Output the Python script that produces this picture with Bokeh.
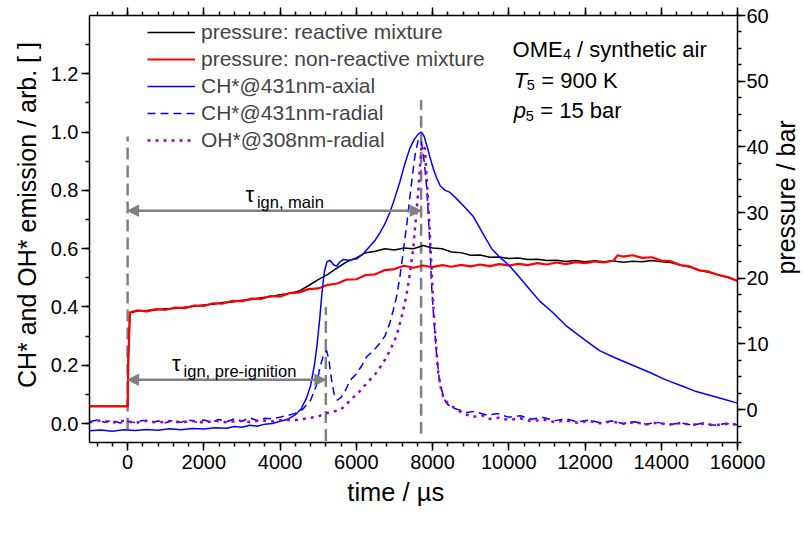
import math
from bokeh.plotting import figure
from bokeh.layouts import row
from bokeh.models import (Range1d, LinearAxis, Legend, LegendItem, Arrow, NormalHead,
                          Label, SingleIntervalTicker, NumeralTickFormatter)
from bokeh.embed import file_html
from bokeh.resources import INLINE

FONT = "Liberation Sans"

# ---------------- data ----------------
# pressure traces (bar), right axis
t_press = [-1000, 0, 20, 60,
           250, 500, 750, 1000, 1250, 1500, 1750, 2000, 2250, 2500,
           2750, 3000, 3250, 3500, 3750, 4000, 4250, 4500, 4750, 5000,
           5250, 5500, 5750, 6000, 6250, 6500, 6750, 7000, 7250, 7500,
           7750, 8000, 8250, 8500, 8750, 9000, 9250, 9500, 9750, 10000,
           10250, 10500, 10750, 11000, 11250, 11500, 11750, 12000, 12250, 12500,
           12750, 12850, 13000, 13250, 13500, 13750, 14000, 14250, 14500, 14750,
           15000, 15250, 15500, 15750, 16000]
p_reactive = [0.5, 0.5, 8.0, 14.7,
              15.0, 15.1, 15.2, 15.35, 15.4, 15.6, 15.75, 15.95, 16.05, 16.3,
              16.4, 16.65, 16.75, 17.05, 17.2, 17.5, 17.7, 18.05, 18.9, 19.8,
              20.6, 21.6, 22.5, 23.1, 23.9, 24.1, 24.5, 24.3, 24.6, 24.5,
              25.0, 24.6, 24.5, 24.0, 23.9, 23.5, 23.55, 23.2, 23.25, 23.0,
              23.1, 22.85, 22.9, 22.7, 22.75, 22.55, 22.7, 22.5, 22.65, 22.5,
              22.65, 22.55, 22.45, 22.6, 22.5, 22.7, 22.5, 22.4, 22.0, 21.7,
              21.2, 20.9, 20.5, 20.1, 19.6]
p_nonreactive = [0.5, 0.5, 8.0, 14.8,
                 15.1, 14.95, 15.3, 15.2, 15.55, 15.45, 15.85, 15.8, 16.2, 16.15,
                 16.55, 16.5, 16.9, 16.85, 17.3, 17.2, 17.75, 17.85, 18.35, 18.45,
                 19.0, 19.2, 19.8, 19.85, 20.5, 20.6, 21.25, 21.4, 21.9, 21.6,
                 21.95, 21.7, 22.0, 21.75, 22.05, 21.8, 22.1, 21.85, 22.15, 21.95,
                 22.2, 22.0, 22.3, 22.1, 22.4, 22.15, 22.45, 22.3, 22.55, 22.4,
                 22.7, 23.5, 23.3, 23.5, 23.1, 23.2, 22.7, 22.6, 22.0, 21.8,
                 21.2, 21.0, 20.5, 20.2, 19.6]

# CH* axial emission (arb.), left axis
t_axial = [-1000, -700, -400, -100, 200, 500, 800, 1100, 1400, 1700,
           2000, 2300, 2600, 2800, 3000, 3200, 3400, 3600, 3800, 4000,
           4200, 4400, 4550, 4700, 4800, 4900, 4970, 5040, 5100, 5160,
           5230, 5310, 5400, 5480, 5570, 5660, 5800, 6010, 6200, 6360,
           6500, 6620, 6750, 6880, 7000, 7140, 7270, 7400, 7520, 7630,
           7710, 7780, 7850, 7930, 8020, 8100, 8200, 8330, 8460, 8640,
           8810, 9070, 9330, 9550, 9770, 10030, 10290, 10550, 10810, 11160,
           11510, 11810, 12120, 12380, 12800, 13250, 13700, 14120, 14560, 14870,
           15200, 15600, 16000]
ch_axial = [-0.025, -0.022, -0.026, -0.021, -0.024, -0.020, -0.023, -0.018, -0.021, -0.017,
            -0.019, -0.014, -0.016, -0.010, -0.013, -0.006, -0.009, -0.002, 0.000, 0.008,
            0.015, 0.030, 0.050, 0.090, 0.130, 0.200, 0.270, 0.360, 0.450, 0.520,
            0.555, 0.560, 0.545, 0.540, 0.555, 0.563, 0.560, 0.565, 0.585, 0.609,
            0.630, 0.655, 0.685, 0.724, 0.770, 0.828, 0.890, 0.943, 0.975, 0.994,
            1.000, 0.985, 0.954, 0.915, 0.874, 0.845, 0.816, 0.800, 0.793, 0.770,
            0.747, 0.710, 0.650, 0.600, 0.570, 0.540, 0.500, 0.460, 0.420, 0.380,
            0.335, 0.305, 0.275, 0.250, 0.225, 0.200, 0.175, 0.150, 0.128, 0.112,
            0.100, 0.085, 0.070]

# CH* radial emission
t_radial = [-1000, -800, -600, -400, -200, 0, 200, 400, 600, 800,
            1000, 1200, 1400, 1600, 1800, 2000, 2200, 2400, 2600, 2800,
            3000, 3200, 3400, 3600, 3800, 4000, 4200, 4400, 4600, 4800,
            4950, 5050, 5150, 5220, 5280, 5350, 5420, 5500, 5600, 5700,
            5840, 6000, 6150, 6270, 6450, 6620, 6750, 6880, 6970, 7060,
            7150, 7240, 7330, 7410, 7480, 7540, 7630, 7710, 7780, 7850,
            7920, 7980, 8050, 8110, 8170, 8240, 8300, 8370, 8500, 8720,
            8900, 9100, 9420, 9700, 10000, 10300, 10600, 10900, 11200, 11500,
            11800, 12100, 12400, 12700, 13000, 13300, 13600, 13900, 14200, 14500,
            14800, 15100, 15400, 15700, 16000]
ch_radial = [0.006, 0.012, 0.004, 0.011, 0.002, 0.008, 0.003, 0.011, 0.002, 0.009,
             0.003, 0.012, 0.004, 0.013, 0.005, 0.012, 0.004, 0.014, 0.006, 0.016,
             0.008, 0.020, 0.010, 0.018, 0.016, 0.022, 0.028, 0.035, 0.050, 0.080,
             0.130, 0.195, 0.240, 0.250, 0.220, 0.150, 0.100, 0.080, 0.090, 0.110,
             0.149, 0.170, 0.200, 0.229, 0.250, 0.276, 0.300, 0.345, 0.390, 0.437,
             0.510, 0.598, 0.690, 0.782, 0.860, 0.920, 0.977, 0.966, 0.900, 0.805,
             0.640, 0.460, 0.330, 0.230, 0.160, 0.115, 0.085, 0.069, 0.055, 0.046,
             0.038, 0.042, 0.029, 0.034, 0.022, 0.027, 0.015, 0.021, 0.010, 0.016,
             0.006, 0.012, 0.003, 0.009, 0.000, 0.006, -0.002, 0.004, -0.004, 0.002,
             -0.005, 0.001, -0.006, 0.000, -0.004]

# OH* radial emission
t_oh = [-1000, -700, -400, -100, 200, 500, 800, 1100, 1400, 1700,
        2000, 2300, 2600, 2900, 3200, 3500, 3800, 4100, 4400, 4700,
        5000, 5180, 5350, 5570, 5700, 5840, 6050, 6270, 6500, 6700,
        6880, 7050, 7180, 7310, 7400, 7490, 7560, 7630, 7710, 7800,
        7890, 7960, 8020, 8090, 8150, 8220, 8280, 8400, 8540, 8800,
        9050, 9300, 9500, 9750, 10000, 10300, 10600, 10900, 11200, 11500,
        11800, 12100, 12400, 12700, 13000, 13300, 13600, 13900, 14200, 14500,
        14800, 15100, 15400, 15700, 16000]
oh_radial = [0.004, 0.011, 0.003, 0.010, 0.002, 0.010, 0.003, 0.009, 0.004, 0.009,
             0.003, 0.010, 0.004, 0.010, 0.005, 0.011, 0.007, 0.013, 0.012, 0.018,
             0.024, 0.034, 0.040, 0.046, 0.060, 0.080, 0.105, 0.138, 0.170, 0.207,
             0.250, 0.299, 0.360, 0.437, 0.510, 0.598, 0.700, 0.805, 0.954, 0.943,
             0.747, 0.570, 0.402, 0.270, 0.172, 0.120, 0.092, 0.070, 0.057, 0.035,
             0.023, 0.028, 0.016, 0.020, 0.012, 0.018, 0.008, 0.014, 0.005, 0.011,
             0.003, 0.009, 0.001, 0.007, -0.001, 0.005, -0.003, 0.003, -0.004, 0.002,
             -0.005, 0.000, -0.006, -0.001, -0.004]

# markers: time zero, pre-ignition, main ignition
marker_t = [0, 5200, 7700]
marker_bottom = [-0.02, -0.06, -0.035]
marker_top = [0.985, 0.40, 1.11]
tau_main = [0, 7700, 0.73]       # start, end, level
tau_pre = [0, 5200, 0.15]

legend_labels = ["pressure: reactive mixture", "pressure: non-reactive mixture",
                 "CH*@431nm-axial", "CH*@431nm-radial", "OH*@308nm-radial"]
x_title = "time / µs"
y_title = "CH* and OH* emission / arb. [ ]"
y2_title = "pressure / bar"

assert len(t_press) == len(p_reactive) == len(p_nonreactive)
assert len(t_axial) == len(ch_axial)
assert len(t_radial) == len(ch_radial)
assert len(t_oh) == len(oh_radial)

NBSP = "\u00a0"

# ---------------- main figure ----------------
p = figure(width=771, height=535, x_range=Range1d(-1000, 16000), y_range=Range1d(-0.065, 1.4),
           output_backend="svg", toolbar_location=None,
           min_border_left=89, min_border_right=33, min_border_top=15, min_border_bottom=93)
p.extra_y_ranges = {"p": Range1d(-5, 60)}
p.xgrid.visible = False
p.ygrid.visible = False
p.outline_line_color = None
p.background_fill_color = "white"
p.border_fill_color = "white"

xax = p.below[0]
yax = p.left[0]
right = LinearAxis(y_range_name="p")
p.add_layout(right, "right")
top = LinearAxis()
p.add_layout(top, "above")

# titles: non-breaking padding nudges them off-centre like the original
xax.axis_label = x_title + NBSP * 5
yax.axis_label = NBSP * 4 + y_title

xax.ticker = SingleIntervalTicker(interval=2000, num_minor_ticks=5)
top.ticker = SingleIntervalTicker(interval=2000, num_minor_ticks=5)
yax.ticker = SingleIntervalTicker(interval=0.2, num_minor_ticks=2)
right.ticker = SingleIntervalTicker(interval=10, num_minor_ticks=4)
yax.formatter = NumeralTickFormatter(format="0.0")

for ax in [xax, yax, right, top]:
    ax.axis_line_width = 1.5
    ax.axis_line_color = "black"
    ax.major_tick_line_width = 1.5
    ax.minor_tick_line_width = 1.5
    ax.major_tick_line_color = "black"
    ax.minor_tick_line_color = "black"
    ax.major_tick_out = 8
    ax.major_tick_in = 0
    ax.minor_tick_out = 4
    ax.minor_tick_in = 0
    ax.major_label_text_font = FONT
    ax.major_label_text_font_size = "20px"
    ax.major_label_text_color = "black"
    ax.major_label_standoff = 3
    ax.axis_label_text_font = FONT
    ax.axis_label_text_font_size = "25px"
    ax.axis_label_text_font_style = "normal"
    ax.axis_label_text_color = "black"

xax.major_label_standoff = 4
xax.axis_label_standoff = 6
xax.axis_label_text_font_size = "25.5px"
yax.axis_label_standoff = 7
top.major_label_text_font_size = "0px"
top.major_label_text_color = None
right.major_label_standoff = 1

# vertical dashed markers
p.segment(x0=marker_t, y0=marker_bottom, x1=marker_t, y1=marker_top,
          line_color="#808080", line_width=2.5, line_dash="12 6")

# curves
r_black = p.line(t_press, p_reactive, y_range_name="p", line_color="black", line_width=1.5)
r_red = p.line(t_press, p_nonreactive, y_range_name="p", line_color="#ff0000", line_width=2.2)
r_ax = p.line(t_axial, ch_axial, line_color="#0000ff", line_width=1.5)
r_rad = p.line(t_radial, ch_radial, line_color="#0000ff", line_width=1.5, line_dash="8 5")
r_oh = p.line(t_oh, oh_radial, line_color="#9900cc", line_width=2.5, line_dash="3 5")

# arrows
GRAY = "#808080"
for a in (tau_main, tau_pre):
    p.add_layout(Arrow(x_start=a[0], y_start=a[2], x_end=a[1], y_end=a[2],
                       line_color=GRAY, line_width=2.5,
                       start=NormalHead(size=11, fill_color=GRAY, line_color=GRAY),
                       end=NormalHead(size=11, fill_color=GRAY, line_color=GRAY)))

def add_text(fig, x, y, text, size, x_off=0, y_off=0, style="normal", angle=0.0,
             align="left", baseline="alphabetic"):
    fig.add_layout(Label(x=x, y=y, text=text, x_offset=x_off, y_offset=y_off, angle=angle,
                         text_font=FONT, text_font_size=size, text_font_style=style,
                         text_color="black", text_baseline=baseline, text_align=align))

# tau labels
add_text(p, 3090, tau_main[2], "τ", "22px", 0, 16)
add_text(p, 3090, tau_main[2], "ign, main", "16.5px", 11.5, 9)
add_text(p, 1166, tau_pre[2], "τ", "22px", 0, 16)
add_text(p, 1166, tau_pre[2], "ign, pre-ignition", "16.5px", 11.5, 9)

# condition text
add_text(p, 10100, 1.285, "OME", "22px")
add_text(p, 10100, 1.285, "4", "14.5px", 50.5, -5)
add_text(p, 10100, 1.285, "/ synthetic air", "22px", 64.5, 0)
add_text(p, 10130, 1.177, "T", "22px", 0, 0, "italic")
add_text(p, 10130, 1.177, "5", "14.5px", 13, -5)
add_text(p, 10130, 1.177, "= 900 K", "22px", 27.5, 0)
add_text(p, 10130, 1.074, "p", "22px", 0, 0, "italic")
add_text(p, 10130, 1.074, "5", "14.5px", 12, -5)
add_text(p, 10130, 1.074, "= 15 bar", "22px", 26.5, 0)

legend = Legend(items=[LegendItem(label=lab, renderers=[r]) for lab, r in
                       zip(legend_labels, [r_black, r_red, r_ax, r_rad, r_oh])],
                location=(58, 290), border_line_color=None, background_fill_alpha=0,
                label_text_font=FONT, label_text_font_size="21px",
                glyph_width=48, glyph_height=20, label_height=20, label_standoff=6,
                spacing=3, padding=0, margin=0)
p.add_layout(legend)

# ---------------- right-hand title strip ----------------
side = figure(width=32, height=535, x_range=Range1d(0, 32), y_range=Range1d(0, 535),
              output_backend="svg", toolbar_location=None, x_axis_type=None, y_axis_type=None,
              min_border_left=0, min_border_right=0, min_border_top=0, min_border_bottom=0)
side.outline_line_color = None
side.background_fill_color = "white"
side.border_fill_color = "white"
add_text(side, 14, 307, y2_title, "25px", angle=math.pi / 2, align="center", baseline="middle")

layout = row(p, side, spacing=0)
open("out.html", "w").write(file_html(layout, INLINE))
